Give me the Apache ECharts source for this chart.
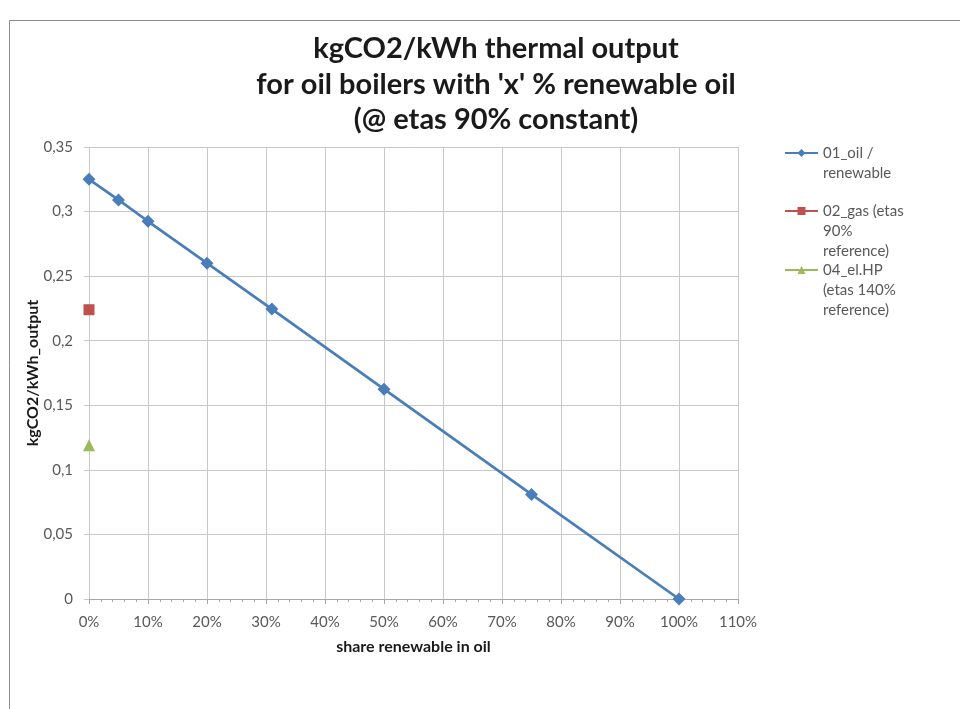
<!DOCTYPE html>
<html>
<head>
<meta charset="utf-8">
<script src="https://cdn.jsdelivr.net/npm/echarts@6/dist/echarts.min.js"></script>
<style>html,body{margin:0;padding:0;background:#fff}#c{width:960px;height:709px}</style>
</head>
<body>
<div id="c"></div>
<script>
const oilX = [0, 5, 10, 20, 31, 50, 75, 100];
const oilY = [0.325, 0.309, 0.2925, 0.26, 0.2245, 0.1625, 0.081, 0];
const gasX = [0];
const gasY = [0.224];
const hpX = [0];
const hpY = [0.119];
const seriesNames = ['01_oil /\nrenewable', '02_gas (etas\n90%\nreference)', '04_el.HP\n(etas 140%\nreference)'];
const titleText = "kgCO2/kWh thermal output\nfor oil boilers with 'x' % renewable oil\n(@ etas 90% constant)";

const FONT = "Lato, 'Open Sans', sans-serif";
const pairs = (xs, ys) => xs.map((x, i) => [x, ys[i]]);

function legendFor(name, firstLineY) {
  const lines = name.split('\n').length;
  const lh = 20;
  return {
    data: [name],
    left: 784,
    top: firstLineY - ((2 * lines - 1) * lh) / 2,
    orient: 'vertical',
    padding: 0,
    itemWidth: 33,
    itemHeight: 10,
    itemGap: 0,
    formatter: n => '\n'.repeat(lines - 1) + n,
    textStyle: { fontFamily: FONT, fontSize: 15, color: '#595959', lineHeight: lh }
  };
}

const chart = echarts.init(document.getElementById('c'));
chart.setOption({
  animation: false,
  title: {
    text: titleText,
    left: 491, top: 26, textAlign: 'center',
    textStyle: { fontFamily: FONT, fontSize: 29, fontWeight: 'bold', color: '#1a1a1a', lineHeight: 35.5 }
  },
  graphic: [{
    type: 'rect', shape: { x: 9.5, y: 20.5, width: 1200, height: 900 },
    style: { fill: 'none', stroke: '#8c8c8c', lineWidth: 1 }, silent: true
  }],
  legend: [
    legendFor(seriesNames[0], 153),
    legendFor(seriesNames[1], 211),
    legendFor(seriesNames[2], 270)
  ],
  grid: { left: 89, right: 222, top: 147, bottom: 110 },
  xAxis: {
    type: 'value', min: 0, max: 110, interval: 10,
    name: 'share renewable in oil', nameLocation: 'middle', nameGap: 40, nameMoveOverlap: false,
    nameTextStyle: { fontFamily: FONT, fontSize: 16, fontWeight: 'bold', color: '#1a1a1a' },
    axisLine: { show: true, onZero: false, lineStyle: { color: '#a6a6a6' } },
    axisTick: { show: true, length: 5, lineStyle: { color: '#a6a6a6' } },
    minorTick: { show: true, splitNumber: 5, length: 3, lineStyle: { color: '#a6a6a6' } },
    axisLabel: { formatter: '{value}%', fontFamily: FONT, fontSize: 15, color: '#595959', margin: 16 },
    splitLine: { show: true, lineStyle: { color: '#c8c8c8' } }
  },
  yAxis: {
    type: 'value', min: 0, max: 0.35, interval: 0.05,
    name: 'kgCO2/kWh_output', nameLocation: 'middle', nameGap: 48, nameMoveOverlap: false,
    nameTextStyle: { fontFamily: FONT, fontSize: 16, fontWeight: 'bold', color: '#1a1a1a' },
    axisLine: { show: false },
    axisTick: { show: true, length: 5, lineStyle: { color: '#c8c8c8' } },
    axisLabel: {
      formatter: v => String(Math.round(v * 100) / 100).replace('.', ','),
      fontFamily: FONT, fontSize: 15, color: '#595959', margin: 16
    },
    splitLine: { show: true, lineStyle: { color: '#c8c8c8' } }
  },
  series: [
    {
      name: seriesNames[0], type: 'line', data: pairs(oilX, oilY),
      symbol: 'diamond', symbolSize: 13,
      lineStyle: { color: '#4a7ebb', width: 2.75 },
      itemStyle: { color: '#4a7ebb' }
    },
    {
      name: seriesNames[1], type: 'line', data: pairs(gasX, gasY),
      symbol: 'rect', symbolSize: 11,
      lineStyle: { color: '#c0504d', width: 2.75 },
      itemStyle: { color: '#c0504d' }
    },
    {
      name: seriesNames[2], type: 'line', data: pairs(hpX, hpY),
      symbol: 'triangle', symbolSize: 12,
      lineStyle: { color: '#9bbb59', width: 2.75 },
      itemStyle: { color: '#9bbb59' }
    }
  ]
});
</script>
</body>
</html>
